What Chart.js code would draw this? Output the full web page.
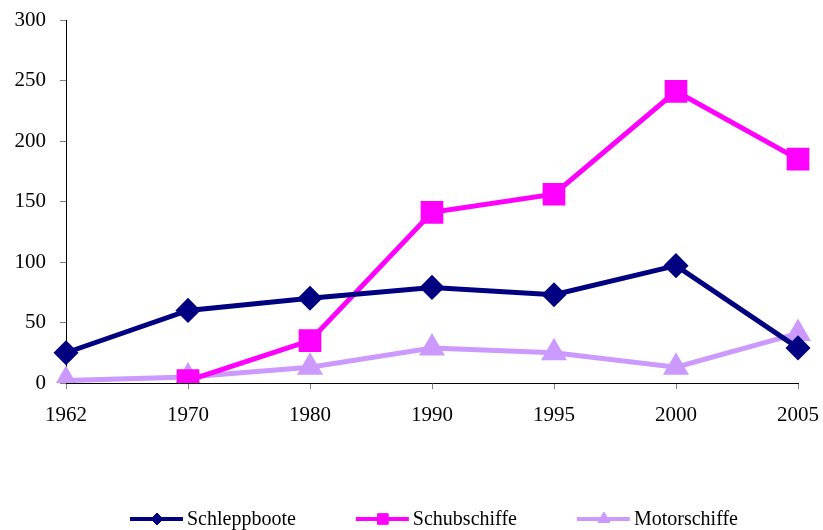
<!DOCTYPE html>
<html>
<head>
<meta charset="utf-8">
<script src="https://cdn.jsdelivr.net/npm/chart.js@4"></script>
<style>
html,body{margin:0;padding:0;background:#fff;}
#wrap{width:823px;height:530px;position:relative;}
</style>
</head>
<body>
<div id="wrap"><canvas id="c" width="823" height="530"></canvas></div>
<script>
const categories = ['1962','1970','1980','1990','1995','2000','2005'];
const schleppboote = [25, 60, 70, 79, 73, 97, 29];
const schubschiffe = [null, 2, 35, 141, 156, 241, 185];
const motorschiffe = [2, 5, 13, 29, 25, 13, 41];
const seriesNames = ['Schleppboote', 'Schubschiffe', 'Motorschiffe'];

const FONT = '"Liberation Serif", "Times New Roman", serif';

new Chart(document.getElementById('c'), {
  type: 'line',
  data: {
    labels: categories,
    datasets: [
      {label: seriesNames[0], data: schleppboote, borderColor: '#000080', backgroundColor: '#000080',
       borderWidth: 5, pointStyle: 'rectRot', pointRadius: 9, pointHoverRadius: 9, tension: 0, legendR: 6},
      {label: seriesNames[1], data: schubschiffe, borderColor: '#FF00FF', backgroundColor: '#FF00FF',
       borderWidth: 5, pointStyle: 'rect', pointRadius: 12.5, pointHoverRadius: 12.5, tension: 0, legendR: 7.5},
      {label: seriesNames[2], data: motorschiffe, borderColor: '#CC99FF', backgroundColor: '#CC99FF',
       borderWidth: 5, pointStyle: 'triangle', pointRadius: 10, pointHoverRadius: 10, tension: 0, legendR: 7}
    ]
  },
  options: {
    responsive: false,
    animation: false,
    devicePixelRatio: 1,
    layout: {padding: {top: 20, right: 25, bottom: 0, left: 0}},
    plugins: {legend: {display: false}, tooltip: {enabled: false}},
    scales: {
      x: {
        offset: false,
        grid: {display: true, drawOnChartArea: false, drawTicks: true, tickLength: 6, color: '#808080'},
        border: {color: '#000', width: 1},
        ticks: {font: {family: FONT, size: 21}, color: '#000', padding: 14, maxRotation: 0, autoSkip: false},
        afterFit(s) { s.height = 147; s.paddingLeft = 0; s.paddingRight = 0; }
      },
      y: {
        min: 0, max: 300,
        grid: {display: true, drawOnChartArea: false, drawTicks: true, tickLength: 6, color: '#808080'},
        border: {color: '#000', width: 1},
        ticks: {stepSize: 50, font: {family: FONT, size: 21}, color: '#000', padding: 14},
        afterFit(s) { s.width = 66; s.paddingTop = 0; s.paddingBottom = 0; }
      }
    }
  },
  plugins: [{
    id: 'lineLegend',
    afterDraw(chart) {
      const ctx = chart.ctx;
      ctx.save();
      ctx.font = '20px ' + FONT;
      ctx.textBaseline = 'middle';
      const y = 519;
      let x = 130;
      chart.data.datasets.forEach((ds) => {
        ctx.strokeStyle = ds.borderColor;
        ctx.lineWidth = 4;
        ctx.beginPath();
        ctx.moveTo(x, y);
        ctx.lineTo(x + 53, y);
        ctx.stroke();
        ctx.fillStyle = ds.borderColor;
        ctx.strokeStyle = ds.borderColor;
        ctx.lineWidth = 1;
        Chart.helpers.drawPoint(ctx, {pointStyle: ds.pointStyle, rotation: 0, radius: ds.legendR, borderWidth: 1}, x + 27, y);
        ctx.fillStyle = '#000';
        ctx.fillText(ds.label, x + 57, y + 1);
        x += 57 + ctx.measureText(ds.label).width + 60;
      });
      ctx.restore();
    }
  }]
});
</script>
</body>
</html>
